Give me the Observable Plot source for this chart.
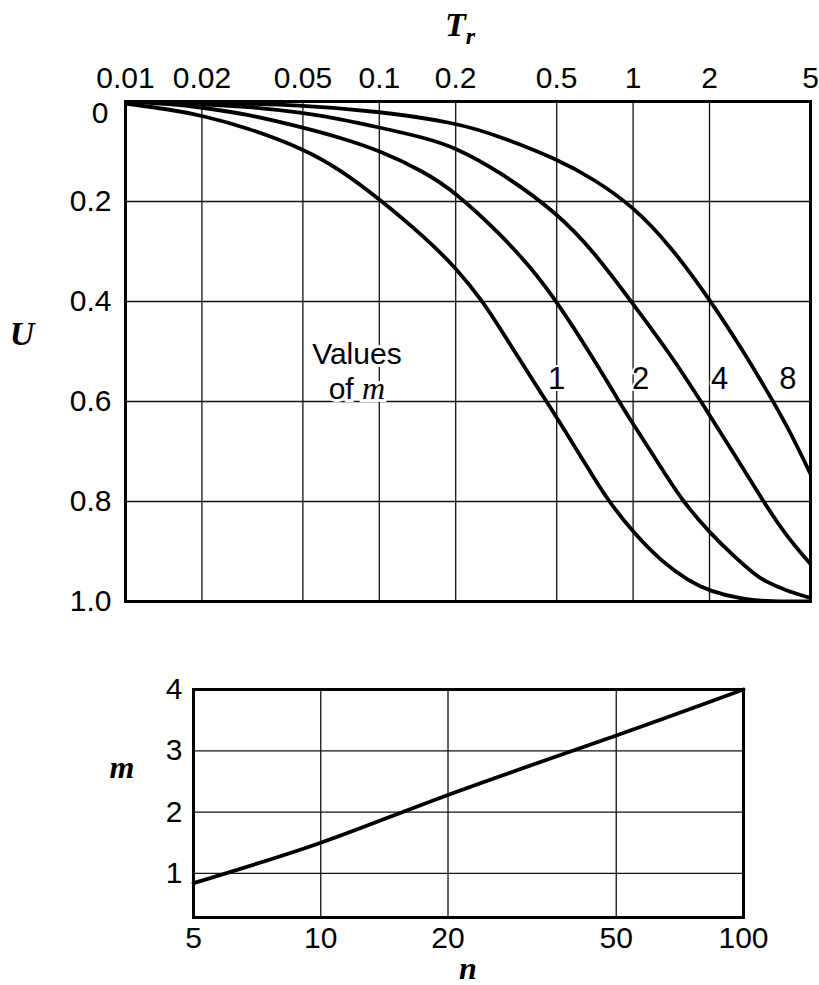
<!DOCTYPE html>
<html><head><meta charset="utf-8">
<script src="https://cdn.jsdelivr.net/npm/d3@7"></script>
<script src="https://cdn.jsdelivr.net/npm/@observablehq/plot@0.6"></script>
<style>
body{margin:0;background:#fff;}
#chart{width:819px;height:985px;}
#chart svg{display:block;}
</style></head><body><div id="chart"></div>
<script>
// ---- top chart data ----
const trTicks = [0.01, 0.02, 0.05, 0.1, 0.2, 0.5, 1, 2, 5];
const uTicks = [0, 0.2, 0.4, 0.6, 0.8, 1.0];
const mValues = ["1", "2", "4", "8"];
const m1Tr = [0.01, 0.015, 0.02, 0.03, 0.05, 0.07, 0.1, 0.15, 0.2, 0.256, 0.3, 0.4, 0.456, 0.5, 0.6, 0.7, 0.79, 1, 1.3, 1.67, 2, 2.7, 3.5, 5];
const m1U  = [0.004, 0.016, 0.028, 0.052, 0.094, 0.136, 0.195, 0.27, 0.332, 0.40, 0.455, 0.555, 0.60, 0.632, 0.697, 0.752, 0.795, 0.862, 0.921, 0.96, 0.979, 0.996, 1.0, 1.0];
const m2Tr = [0.01, 0.015, 0.02, 0.03, 0.05, 0.07, 0.1, 0.15, 0.2, 0.3, 0.4, 0.5, 0.7, 0.88, 1, 1.3, 1.57, 2, 2.5, 3, 3.29, 4, 5];
const m2U  = [0.0, 0.005, 0.012, 0.025, 0.052, 0.072, 0.098, 0.14, 0.182, 0.265, 0.335, 0.40, 0.515, 0.60, 0.645, 0.735, 0.80, 0.862, 0.91, 0.945, 0.959, 0.978, 0.993];
const m4Tr = [0.01, 0.02, 0.03, 0.05, 0.07, 0.1, 0.15, 0.2, 0.3, 0.5, 0.7, 1, 1.4, 1.88, 2.5, 3.26, 4, 5];
const m4U  = [0.0, 0.005, 0.01, 0.022, 0.035, 0.052, 0.072, 0.092, 0.141, 0.222, 0.30, 0.405, 0.505, 0.605, 0.705, 0.80, 0.868, 0.925];
const m8Tr = [0.01, 0.02, 0.05, 0.1, 0.2, 0.3, 0.5, 0.7, 1, 1.4, 2, 2.7, 3.57, 4.2, 5];
const m8U  = [0.0, 0.002, 0.007, 0.02, 0.042, 0.07, 0.115, 0.155, 0.21, 0.288, 0.395, 0.497, 0.60, 0.665, 0.745];
const labelTr = [0.5, 1.07, 2.19, 4.07];
const labelU = [0.555, 0.555, 0.555, 0.555];
const noteTr = 0.082;
const noteU = [0.505, 0.575];

// ---- bottom chart data ----
const nTicks = [5, 10, 20, 50, 100];
const mTicks = [1, 2, 3, 4];
const nVals = [5, 10, 20, 50, 100];
const mVals = [0.84, 1.5, 2.28, 3.25, 4.0];

const series = [[m1Tr, m1U], [m2Tr, m2U], [m4Tr, m4U], [m8Tr, m8U]];
const curves = series.flatMap(([t, u], i) => t.map((tr, j) => ({m: mValues[i], tr, u: u[j]})));
const labels = mValues.map((m, i) => ({m, tr: labelTr[i], u: labelU[i]}));
const mLine = nVals.map((n, i) => ({n, m: mVals[i]}));

const sans = "'Liberation Sans', Arial, Helvetica, sans-serif";
const serif = "'Liberation Serif', 'Times New Roman', serif";
const gridStyle = {stroke: "#111", strokeWidth: 1.3, strokeOpacity: 1};
const uFmt = d => d === 0 ? "0" : d.toFixed(1);

const topPlot = Plot.plot({
  width: 819, height: 620,
  marginLeft: 125, marginRight: 9, marginTop: 101, marginBottom: 19,
  style: {fontFamily: sans, fontSize: "30px", color: "#000", background: "#fff", overflow: "visible"},
  x: {type: "log", domain: [0.01, 5], axis: null},
  y: {domain: [0, 1], reverse: true, axis: null},
  marks: [
    Plot.ruleX(trTicks.slice(1, -1), gridStyle),
    Plot.ruleY(uTicks.slice(1, -1), gridStyle),
    Plot.text(trTicks, {x: d => d, frameAnchor: "top", dy: -23, lineAnchor: "middle", text: d => String(d), fontSize: 30, fill: "#000"}),
    Plot.text(uTicks.slice(0, 1), {y: d => d, frameAnchor: "left", dx: -17, dy: 12, textAnchor: "end", lineAnchor: "middle", text: uFmt, fontSize: 30, fill: "#000"}),
    Plot.text(uTicks.slice(1), {y: d => d, frameAnchor: "left", dx: -14, textAnchor: "end", lineAnchor: "middle", text: uFmt, fontSize: 30, fill: "#000"}),
    Plot.line(curves, {x: "tr", y: "u", z: "m", curve: "basis", clip: true, stroke: "#000", strokeWidth: 3.8}),
    Plot.text(labels, {x: "tr", y: "u", text: "m", fontSize: 31, fill: "#000", stroke: "#fff", strokeWidth: 4, paintOrder: "stroke"}),
    Plot.frame({stroke: "#000", strokeWidth: 3})
  ]
});

const botPlot = Plot.plot({
  width: 819, height: 365,
  marginLeft: 193, marginRight: 76, marginTop: 69, marginBottom: 68,
  style: {fontFamily: sans, fontSize: "30px", color: "#000", background: "#fff", overflow: "visible"},
  x: {type: "log", domain: [5, 100], axis: null},
  y: {domain: [0.28, 4], axis: null},
  marks: [
    Plot.ruleX(nTicks.slice(1, -1), gridStyle),
    Plot.ruleY(mTicks.slice(0, -1), gridStyle),
    Plot.text(nTicks, {x: d => d, frameAnchor: "bottom", dy: 21, lineAnchor: "middle", text: d => String(d), fontSize: 30, fill: "#000"}),
    Plot.text(mTicks, {y: d => d, frameAnchor: "left", dx: -11, textAnchor: "end", lineAnchor: "middle", text: d => String(d), fontSize: 30, fill: "#000"}),
    Plot.line(mLine, {x: "n", y: "m", curve: "natural", stroke: "#000", strokeWidth: 3.8}),
    Plot.frame({stroke: "#000", strokeWidth: 3})
  ]
});

const root = document.getElementById("chart");
root.appendChild(topPlot);
root.appendChild(botPlot);

// annotations on top chart
const xs = topPlot.scale("x"), ys = topPlot.scale("y");
const ts = d3.select(topPlot);
const tx = ts.append("text")
  .attr("x", 460).attr("y", 36)
  .attr("text-anchor", "middle")
  .attr("font-family", serif).attr("font-style", "italic").attr("font-weight", "bold")
  .attr("font-size", 34).attr("fill", "#000");
tx.append("tspan").text("T");
tx.append("tspan").attr("font-size", 24).attr("dy", 8).text("r");

ts.append("text")
  .attr("x", 22).attr("y", 345)
  .attr("text-anchor", "middle")
  .attr("font-family", serif).attr("font-style", "italic").attr("font-weight", "bold")
  .attr("font-size", 34).attr("fill", "#000").text("U");

const note = ts.append("g")
  .attr("font-family", sans).attr("font-size", 30).attr("text-anchor", "middle")
  .attr("fill", "#000").attr("stroke", "#fff").attr("stroke-width", 6)
  .attr("paint-order", "stroke");
note.append("text").attr("x", xs.apply(noteTr)).attr("y", ys.apply(noteU[0]))
  .attr("dy", "0.35em").text("Values");
const of = note.append("text").attr("x", xs.apply(noteTr)).attr("y", ys.apply(noteU[1]))
  .attr("dy", "0.35em");
of.append("tspan").text("of ");
of.append("tspan").attr("font-family", serif).attr("font-style", "italic").attr("font-size", 32).text("m");

// axis labels on bottom chart
const bs = d3.select(botPlot);
bs.append("text")
  .attr("x", 122).attr("y", 158)
  .attr("text-anchor", "middle")
  .attr("font-family", serif).attr("font-style", "italic").attr("font-weight", "bold")
  .attr("font-size", 32).attr("fill", "#000").text("m");
bs.append("text")
  .attr("x", 468).attr("y", 359)
  .attr("text-anchor", "middle")
  .attr("font-family", serif).attr("font-style", "italic").attr("font-weight", "bold")
  .attr("font-size", 32).attr("fill", "#000").text("n");
</script>
</body></html>
